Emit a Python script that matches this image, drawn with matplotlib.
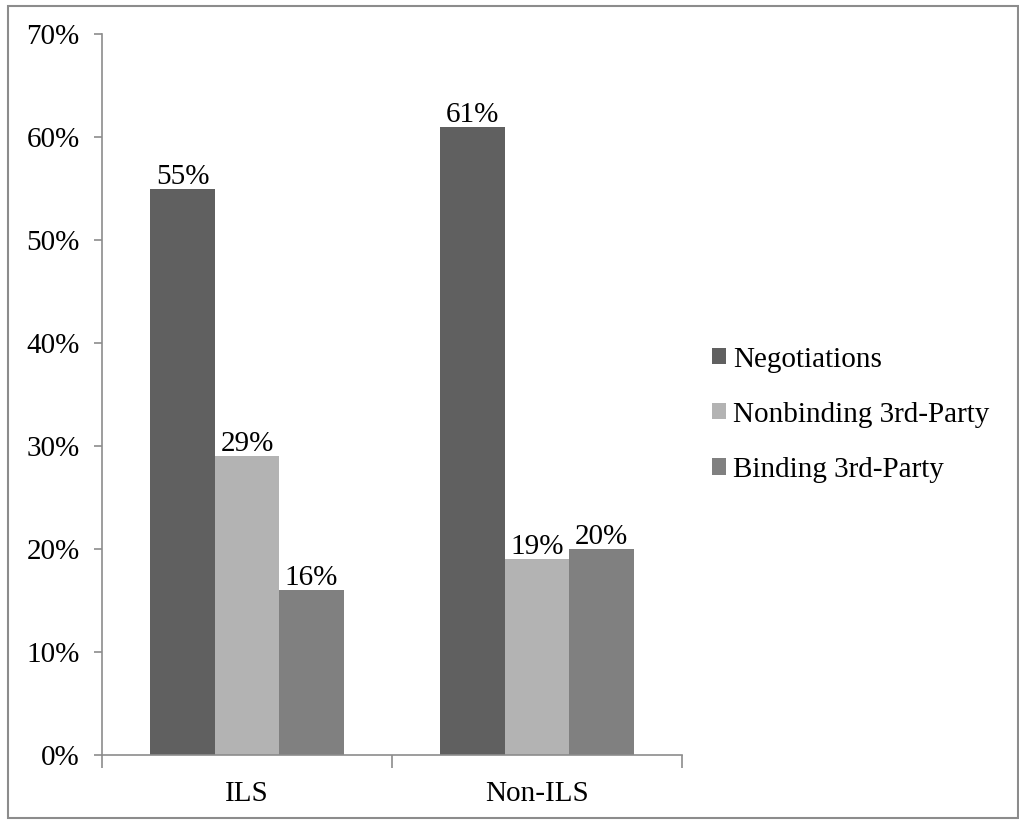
import numpy as np
import matplotlib
matplotlib.use("Agg")
import matplotlib.pyplot as plt
from matplotlib.patches import Rectangle

# ─────────────────────────────────────────
# DATA
# ─────────────────────────────────────────
groups = ["ILS", "Non-ILS"]
series_names = ["Negotiations", "Nonbinding 3rd-Party", "Binding 3rd-Party"]
negotiations = [55, 61]
nonbinding = [29, 19]
binding = [16, 20]
yticks = [0, 10, 20, 30, 40, 50, 60, 70]

colors = ["#606060", "#b3b3b3", "#808080"]
axis_color = "#8c8c8c"
fs = 21

plt.rcParams["font.family"] = ["Liberation Serif", "DejaVu Serif"]

fig = plt.figure(figsize=(10.2, 8.24), dpi=100)
ax = fig.add_axes([0.1, 0.0837, 0.5686, 0.875])

x = np.arange(len(groups))
width = 0.2225
all_series = [negotiations, nonbinding, binding]
for i, (vals, name, col) in enumerate(zip(all_series, series_names, colors)):
    pos = x + (i - 1) * width
    bars = ax.bar(pos, vals, width=width, color=col, label=name, zorder=2)
    for b, v in zip(bars, vals):
        ax.text(b.get_x() + b.get_width() / 2, v - 0.1, f"{v}%",
                ha="center", va="bottom", fontsize=fs, color="black")

ax.set_xlim(-0.5, 1.5)
ax.set_ylim(0, 70)
ax.set_yticks(yticks)
ax.set_yticklabels([f"{t}%" for t in yticks], fontsize=fs)
ax.set_xticks([0, 1])
ax.set_xticklabels(groups, fontsize=fs)
ax.tick_params(axis="x", length=0, pad=19)
ax.tick_params(axis="y", length=6, color=axis_color, width=1.2, pad=10)
# x ticks sit between the categories
ax.set_xticks([-0.5, 0.5, 1.5], minor=True)
ax.tick_params(axis="x", which="minor", length=9, color=axis_color, width=1.2)

for side in ["top", "right"]:
    ax.spines[side].set_visible(False)
for side in ["left", "bottom"]:
    ax.spines[side].set_color(axis_color)
    ax.spines[side].set_linewidth(1.2)

ax.legend(loc="center left", bbox_to_anchor=(1.032, 0.472), frameon=False,
          fontsize=fs, handlelength=0.48, handleheight=0.48,
          handletextpad=0.25, labelspacing=1.0, borderaxespad=0)

# outer frame
fig.patches.append(Rectangle((8 / 1020, 6 / 824), 1010 / 1020, 812 / 824,
                             transform=fig.transFigure, fill=False,
                             edgecolor="#8c8c8c", linewidth=1.5))

plt.savefig("out.png", dpi=100)
